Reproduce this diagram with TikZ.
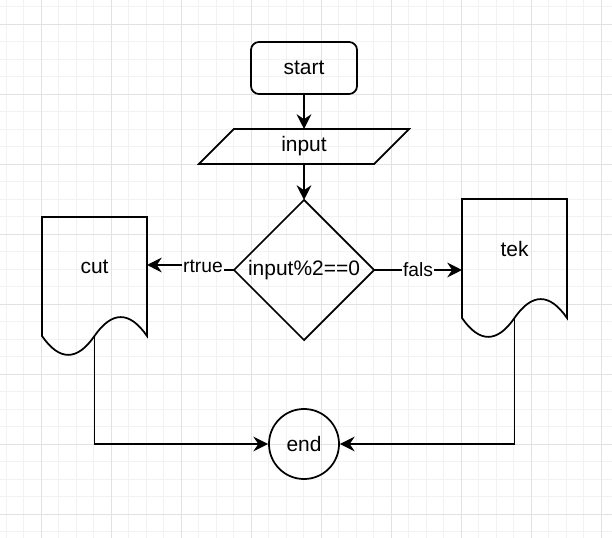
\documentclass[tikz,border=0pt]{standalone}
\usepackage{fontspec}
\setmainfont{Liberation Sans}
\usetikzlibrary{arrows.meta}
\definecolor{gridminor}{HTML}{F2F2F2}
\definecolor{gridmajor}{HTML}{E2E2E2}
\tikzset{
  every node/.style={font=\fontsize{14.9}{18}\selectfont},
  line/.style={line width=1.24pt, black},
  arrow/.style={line, -{Stealth[length=10.5pt,width=10.5pt,inset=3.5pt]}},
  minorgrid/.style={line width=0.6pt, gridminor},
  majorgrid/.style={line width=0.6pt, gridmajor},
  box/.style={rectangle, inner sep=0pt, outer sep=0pt},
  edgelabel/.style={fill=white, inner sep=1pt, font=\fontsize{13.7}{16}\selectfont},
}
%文档形状(下边为波浪线)
\newcommand{\drawdoc}[1]{%
  \begin{scope}[shift={(#1.north west)}]
    \draw[line] (0,0) -- (105,0) -- (105,119) .. controls (87.5,93.8) and (70,93.8) .. (52.5,119) .. controls (35,144.2) and (17.5,144.2) .. (0,119) -- cycle;
    \coordinate (#1-foot) at (52.5,119);
  \end{scope}}

\begin{document}
\begin{tikzpicture}[x=0.025cm, y=-0.025cm]

%背景和网格
\fill[white] (0,0) rectangle (612,538);
\useasboundingbox (0,0) rectangle (612,538);
\foreach \i in {0,...,34} \draw[minorgrid] (6+17.5*\i,0) -- (6+17.5*\i,538);
\foreach \i in {0,...,30} \draw[minorgrid] (0,6.5+17.5*\i) -- (612,6.5+17.5*\i);
\foreach \i in {0,...,8} \draw[majorgrid] (41+70*\i,0) -- (41+70*\i,538);
\foreach \i in {0,...,7} \draw[majorgrid] (0,24+70*\i) -- (612,24+70*\i);

%开始和输入
\node[draw, line, rounded corners=0.2cm, minimum width=2.65cm, minimum height=1.3cm] (start) at (304,68) {start};
\node[box, minimum width=4.375cm, minimum height=0.875cm] (input) at (304,146.5) {input};
\draw[line] ([xshift=0.4375cm]input.north west) -- ([xshift=0.4375cm]input.north east) -- ([xshift=-0.4375cm]input.south east) -- ([xshift=-0.4375cm]input.south west) -- cycle;

%判断框
\node[box, minimum width=3.5cm, minimum height=3.5cm] (test) at (304,270) {input\%2==0};
\draw[line] (test.north) -- (test.east) -- (test.south) -- (test.west) -- cycle;

%两个文档框
\node[box, minimum width=2.625cm, minimum height=3.5cm] (cut) at (94.5,287) {};
\drawdoc{cut}
\node (cuttext) at (94.5,267) {cut};
\node[box, minimum width=2.625cm, minimum height=3.5cm] (tek) at (514.5,269) {};
\drawdoc{tek}
\node (tektext) at (514.5,249) {tek};

%结束
\node[draw, line, circle, minimum size=1.75cm, inner sep=0pt] (end) at (304,444) {end};

%连线
\draw[arrow] (start) -- (input);
\draw[arrow] (input) -- (test);
\draw[arrow] (test.west) -- ++(-20,0) |- ([yshift=0.55cm]cut.east);
\node[edgelabel] (truelabel) at (203,266) {rtrue};
\draw[arrow] (test.east) -- (test.east -| tek.west) node[edgelabel, midway] (falselabel) {fals};
\draw[arrow] (cut-foot) |- (end.west);
\draw[arrow] (tek-foot) |- (end.east);
\end{tikzpicture}
\end{document}
